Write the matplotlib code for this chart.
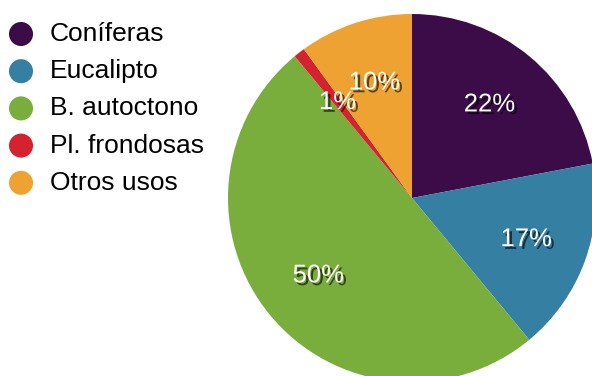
import matplotlib
matplotlib.use("Agg")
import matplotlib.pyplot as plt
import matplotlib.patheffects as pe

categories = ["Coníferas", "Eucalipto", "B. autoctono", "Pl. frondosas", "Otros usos"]
shares = [22, 17, 50, 1, 10]
colors = ["#3c0c49", "#357fa2", "#79ae3d", "#d4232f", "#eea231"]

W, H = 592, 376
dpi = 100
fig = plt.figure(figsize=(W / dpi, H / dpi), dpi=dpi)
fig.patch.set_facecolor("white")

plt.rcParams["font.family"] = ["Liberation Sans", "DejaVu Sans"]

# pie axes: centre at (412, 198) px from top-left, radius 184 px
cx, cy, r = 412, 198, 184
ax = fig.add_axes([(cx - r) / W, (H - cy - r) / H, 2 * r / W, 2 * r / H])
wedges, texts, autotexts = ax.pie(
    shares,
    colors=colors,
    startangle=90,
    counterclock=False,
    autopct=lambda p: f"{p:.0f}%",
    pctdistance=0.66,
    wedgeprops=dict(linewidth=0),
    textprops=dict(color="white", fontsize=18.5),
)
shadow = [pe.withSimplePatchShadow(offset=(2, -2), shadow_rgbFace="black", alpha=0.6)]
for t in autotexts:
    t.set_path_effects(shadow)
ax.set_xlim(-1, 1)
ax.set_ylim(-1, 1)
ax.set_aspect("equal")
ax.axis("off")

# legend: coloured dots with labels
lax = fig.add_axes([0, 0, 1, 1])
lax.set_xlim(0, W)
lax.set_ylim(H, 0)
lax.axis("off")
y0, step = 34, 37.2
for i, (name, col) in enumerate(zip(categories, colors)):
    y = y0 + i * step
    lax.scatter([21], [y], s=300, color=col, edgecolor="none")
    lax.text(50, y, name, fontsize=19, va="center", ha="left", color="black")

fig.savefig("out.png", dpi=dpi)
